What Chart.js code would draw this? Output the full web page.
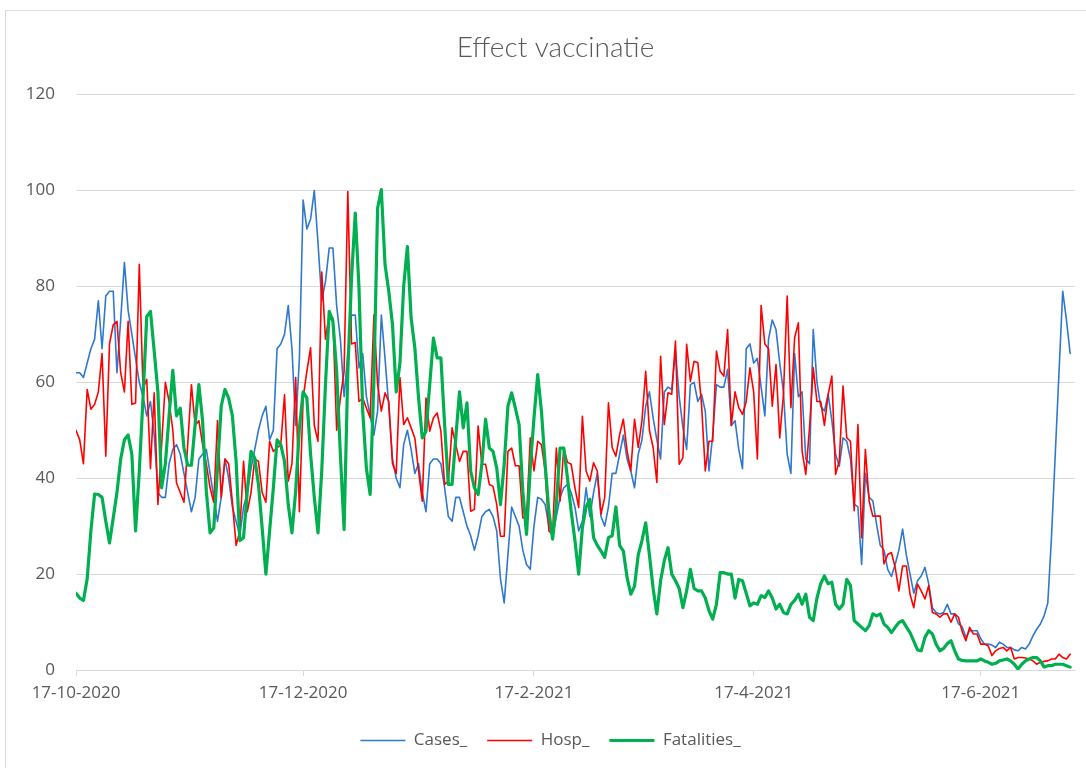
<!DOCTYPE html>
<html>
<head>
<meta charset="utf-8">
<title>Effect vaccinatie</title>
<script src="https://cdn.jsdelivr.net/npm/chart.js@4.4.1/dist/chart.umd.min.js"></script>
<style>
  html, body { margin: 0; padding: 0; background: #fff; }
  #wrap { position: relative; width: 1086px; height: 768px; overflow: hidden; }
  #frame { position: absolute; left: 5px; top: 10px; width: 1200px; height: 900px;
           border-top: 1px solid #d9d9d9; border-left: 1px solid #d9d9d9; pointer-events: none; }
</style>
</head>
<body>
<div id="wrap">
  <canvas id="chart" width="1086" height="768"></canvas>
  <div id="frame"></div>
</div>
<script>
// daily values, starting 17-10-2020
const cases = [
  62, 62, 61, 64, 67, 69, 77, 67, 78, 79,
  79, 62, 73, 85, 75, 70, 65, 60, 57, 53,
  56, 49, 37, 36, 36, 43, 46, 47, 45, 41,
  37, 33, 36, 44, 45, 46, 41, 36, 31, 36,
  44, 40, 34, 31, 28, 34, 37, 42, 46, 50,
  53, 55, 48, 50, 67, 68, 70, 76, 67, 51,
  65, 98, 92, 94, 100, 89, 77, 81, 88, 88,
  76, 69, 57, 66, 74, 74, 63, 66, 57, 53,
  49, 54, 74, 65, 55, 44, 40, 38, 47, 50,
  46, 41, 43, 37, 33, 43, 44, 44, 43, 38,
  32, 31, 36, 36, 33, 30, 28, 25, 28, 32,
  33, 33.5, 32, 29, 19, 14, 24, 34, 32, 30,
  25, 22, 21, 30, 36, 35.6, 34.5, 30, 28, 32,
  36, 38, 38.7, 37, 34, 29, 31, 38, 32, 37,
  41, 32, 30, 34, 41, 41, 45, 49, 44, 41.5,
  38, 45, 48, 55, 58, 52.6, 48, 44, 58, 59,
  58.5, 66.5, 57, 50.5, 46, 59.5, 60, 56, 57.5, 54,
  41.5, 49, 59.5, 59, 59, 62.7, 51, 52, 46, 42,
  67, 68, 64, 65, 59, 53, 69, 73, 71, 64,
  58, 45, 41, 66, 57, 58, 44, 43, 71, 60,
  55, 54, 57.5, 52, 45, 42.5, 48.4, 47.7, 44, 34.6,
  34, 22, 41, 36, 35.3, 30.4, 26, 25, 21, 19.5,
  22, 25, 29.4, 24, 20, 16, 18.6, 19.6, 21.4, 18,
  13, 12, 11.7, 12, 13.7, 11.7, 11.7, 9.6, 9, 6.8,
  8.2, 8.2, 8.2, 6.5, 5.4, 5.4, 5.2, 4.7, 5.8, 5.4,
  4.7, 4.7, 4.2, 4, 4.7, 4.4, 5.4, 7.1, 8.5, 9.6,
  11.3, 14, 28, 45, 62, 79, 73, 66
];

const hosp = [
  50, 48, 43, 58.5, 54.4, 55.4, 58, 66, 44.6, 68,
  72, 72.7, 62, 58, 72.7, 55.4, 55.7, 84.6, 58.8, 60.6,
  42, 57.8, 34.5, 47, 60, 56, 50, 39, 37, 35,
  47, 59.5, 51, 52, 47, 43, 38, 35, 52, 36,
  44, 43, 35, 26, 29, 43.5, 33, 37, 44, 43.5,
  37, 35, 47.7, 45.6, 46.3, 47, 57.4, 39.4, 43, 61,
  33, 56.7, 62.3, 67.2, 51, 47.7, 83, 69, 74, 73.4,
  50, 56.7, 62.3, 99.8, 68, 68.3, 56, 56.7, 54.6, 52.6,
  74, 59.5, 54, 57.8, 56, 43, 41, 61, 51.2, 52.6,
  50.5, 48.4, 41.5, 35.2, 56.7, 49.8, 52.6, 53.6, 49.8, 38.7,
  39.4, 50.5, 47, 43.5, 45.6, 45.6, 33.1, 33.5, 50.9, 42.9,
  42.9, 38.7, 38.3, 34.5, 27.9, 27.9, 45.6, 46.3, 42.6, 42.6,
  31.7, 31.9, 48.4, 41.5, 47.7, 47, 41.5, 29, 28.3, 46.3,
  35.2, 46.3, 43.3, 42.9, 38, 33.9, 52.9, 41.5, 39.4, 43.2,
  41.5, 32.5, 36, 55.7, 46.4, 44.6, 49.1, 52.3, 45.7, 41.5,
  52.3, 46.4, 52, 62.3, 50, 46.4, 39.1, 65.4, 51.2, 57.8,
  57.5, 68.6, 42.9, 44.3, 67.9, 60.2, 64.4, 64.1, 55.4, 41.5,
  47.7, 47.7, 66.5, 62.3, 61.3, 71, 51, 58, 54.7, 53.3,
  56, 63, 58, 44, 76, 68, 67, 55, 63.7, 48.4,
  57.5, 78, 54.7, 69.3, 72.4, 45.7, 40.8, 50.5, 63, 56,
  56, 51, 57.5, 61.3, 40.8, 43.6, 59.2, 48.4, 47.7, 33.2,
  51.2, 27.6, 46, 35.3, 32.1, 32.1, 32.1, 22.1, 24.1, 24.5,
  21.4, 16.5, 21.7, 21.7, 15.8, 13, 17.9, 16.5, 14.8, 17.6,
  12, 11.7, 11, 11.7, 11.7, 10, 11.7, 11, 8, 6.1,
  8.9, 7.5, 7.5, 5.4, 5.4, 5, 3, 4, 4.5, 4.7,
  4, 4.7, 2.3, 2.6, 2.6, 2.5, 2.3, 1.9, 1.2, 1.6,
  1.8, 1.9, 2.3, 2.3, 3.3, 2.6, 2.3, 3.3
];

const fatalities = [
  16, 15, 14.5, 19, 29, 36.7, 36.6, 36, 31, 26.5,
  31.7, 37, 44, 48, 49, 45, 29, 41.5, 56.7, 73.7,
  74.8, 66.5, 58, 38, 43, 53, 62.5, 53, 54.6, 46.3,
  42.7, 42.7, 51.2, 59.5, 51.9, 37.3, 28.6, 29.6, 42, 55,
  58.5, 56.7, 53, 43.5, 27, 27.6, 37.3, 45.6, 44.2, 38.7,
  29.6, 20, 29, 38, 48, 47, 43.5, 34.5, 28.6, 37.3,
  50.5, 58, 56.7, 45, 36, 28.6, 41.5, 59.5, 74.8, 72.7,
  62.3, 45, 29.3, 62.3, 81.7, 95.3, 79.7, 54, 42, 36.6,
  60.2, 96.3, 100.2, 84.5, 79, 72, 58, 64, 80, 88.3,
  73.4, 67.2, 56.7, 48.4, 49.8, 59.5, 69.2, 65.1, 65.1, 51.2,
  38.7, 38.7, 48.4, 58, 50.5, 55.7, 41.5, 38, 36.6, 42.9,
  52.3, 46.3, 45.6, 42.1, 34.5, 42.9, 55, 57.8, 54.6, 51.2,
  37.3, 28.3, 42.1, 52.6, 61.6, 54, 42.9, 33.1, 27.3, 34.5,
  46.3, 46.3, 40, 33, 27, 20, 29.7, 34, 35.6, 27.6,
  26, 24.8, 23.5, 27.6, 28, 34, 26, 24.8, 19.3, 15.8,
  17.5, 24, 27, 30.7, 24, 17, 11.7, 18.6, 22.8, 25.5,
  20, 18.6, 17, 13, 16.5, 21, 17, 16.5, 16.5, 15,
  12.4, 10.6, 13.7, 20.3, 20.3, 20, 20, 15, 18.9, 18.6,
  16, 13.4, 14, 13.7, 15.5, 15.1, 16.5, 15, 12.7, 13.7,
  12, 11.7, 13.7, 14.5, 15.8, 13.7, 15.8, 11, 10.3, 15,
  18, 19.6, 18, 18.3, 13.7, 12.7, 13.7, 18.9, 17.6, 10.3,
  9.6, 8.9, 8.2, 9.2, 11.7, 11.3, 11.7, 9.6, 8.9, 7.8,
  8.9, 9.9, 10.3, 9, 7.8, 6, 4.2, 4, 6.8, 8.2,
  7.5, 5.4, 4, 4.5, 5.5, 6.1, 4, 2.3, 2, 1.9,
  1.9, 1.9, 1.9, 2.3, 1.9, 1.6, 1.2, 1.4, 1.9, 2.1,
  2.3, 1.9, 1.2, 0.2, 1.2, 1.9, 2.3, 2.6, 2.6, 1.9,
  0.6, 0.9, 0.9, 1.2, 1.2, 1.2, 0.9, 0.6
];

// x-axis labels (day number from start -> text)
const tickDays = [0, 61, 123, 182, 243];
const tickLabels = ['17-10-2020', '17-12-2020', '17-2-2021', '17-4-2021', '17-6-2021'];

const days = cases.map((v, i) => i);
const grey = '#595959';
const gridGrey = '#d9d9d9';
const font = 'Open Sans';

// title and legend sit a bit right of the canvas centre in the original
const nudge = {
  id: 'nudge',
  afterLayout(chart) {
    chart.titleBlock.left += 18;
    chart.titleBlock.right += 18;
    chart.legend.left += 13;
    chart.legend.right += 13;
  },
};

new Chart(document.getElementById('chart'), {
  type: 'line',
  data: {
    labels: days,
    datasets: [
      { label: 'Cases_', data: cases, borderColor: '#2e78cf', backgroundColor: '#2e78cf',
        borderWidth: 1.6, order: 2 },
      { label: 'Hosp_', data: hosp, borderColor: '#ff0000', backgroundColor: '#ff0000',
        borderWidth: 1.6, order: 1 },
      { label: 'Fatalities_', data: fatalities, borderColor: '#00b050', backgroundColor: '#00b050',
        borderWidth: 3.2, order: 0 },
    ],
  },
  options: {
    animation: false,
    responsive: false,
    devicePixelRatio: 1,
    elements: {
      point: { radius: 0 },
      line: { tension: 0, borderJoinStyle: 'round', borderCapStyle: 'round' },
    },
    layout: { padding: { left: 0, right: 11, top: 0, bottom: 9 } },
    scales: {
      x: {
        type: 'linear',
        min: 0,
        max: 268.3,
        afterBuildTicks: (scale) => {
          scale.ticks = tickDays.map((d) => ({ value: d }));
        },
        afterFit: (scale) => { scale.height = 42; },
        ticks: {
          autoSkip: false,
          maxRotation: 0,
          padding: 7,
          color: grey,
          font: { family: font, size: 17 },
          callback: (value) => tickLabels[tickDays.indexOf(value)],
        },
        grid: { drawOnChartArea: false, drawTicks: true, tickLength: 6, color: gridGrey },
        border: { color: gridGrey },
      },
      y: {
        min: 0,
        max: 120,
        afterFit: (scale) => { scale.width = 76; },
        ticks: { stepSize: 20, padding: 21, color: grey, font: { family: font, size: 17 } },
        grid: { color: gridGrey, drawTicks: false },
        border: { display: false },
      },
    },
    plugins: {
      title: {
        display: true,
        text: 'Effect vaccinatie',
        color: grey,
        font: { family: 'Lato', size: 28, weight: 300 },
        padding: { top: 31, bottom: 30 },
      },
      legend: {
        position: 'bottom',
        labels: {
          usePointStyle: true,
          pointStyle: 'line',
          pointStyleWidth: 45,
          padding: 20,
          color: grey,
          font: { family: font, size: 17 },
          sort: (a, b) => a.datasetIndex - b.datasetIndex,
        },
      },
      tooltip: { enabled: false },
    },
  },
  plugins: [nudge],
});
</script>
</body>
</html>
